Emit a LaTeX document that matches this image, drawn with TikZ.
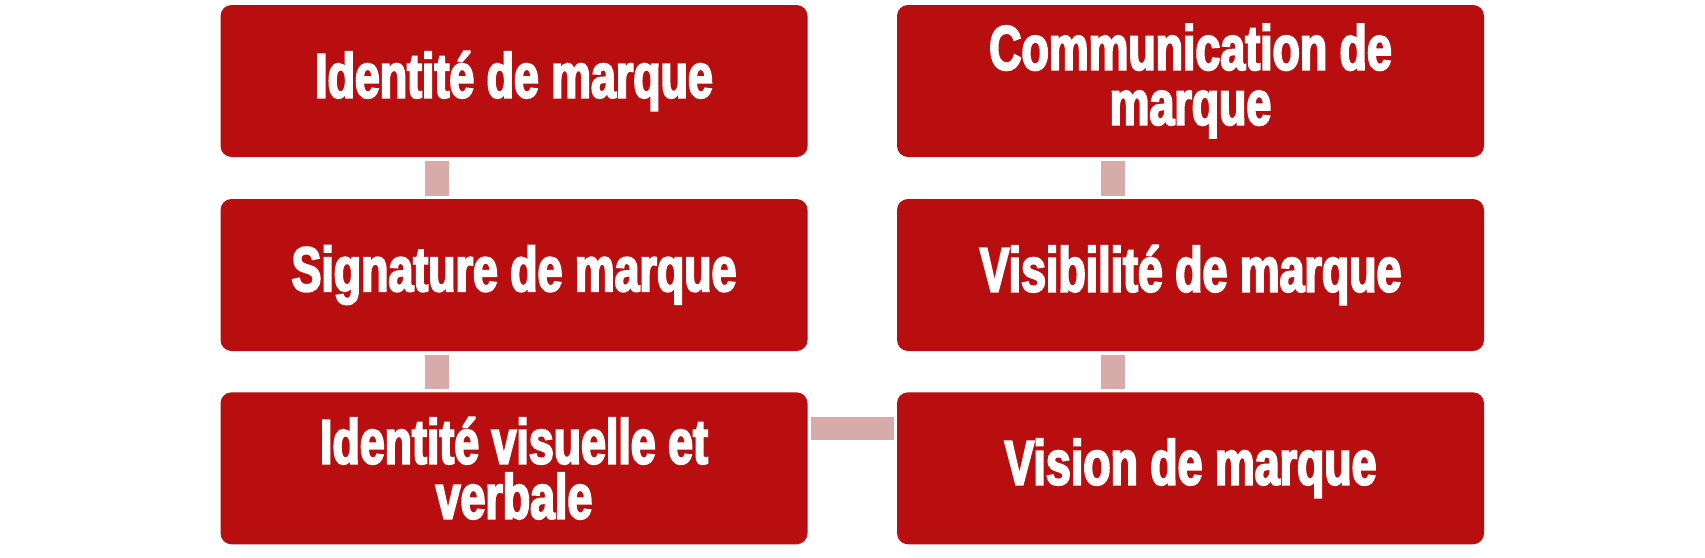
\documentclass[tikz,border=0pt]{standalone}
\usepackage{fontspec}
\newfontfamily\impfont{Liberation Sans}[FakeStretch=0.71,FakeBold=3]
\definecolor{boxred}{HTML}{B90E0F}
\definecolor{connpink}{HTML}{D8ABAB}
\begin{document}
\begin{tikzpicture}[x=1pt,y=-1pt,
  stepbox/.style={rectangle,rounded corners=11pt,fill=boxred,draw=none,
    minimum width=587pt,minimum height=152pt,inner sep=0pt,
    text=white,align=center,
    font=\impfont\bfseries\fontsize{63}{55}\selectfont},
  conn/.style={draw=connpink,line width=23.5pt,line cap=butt,shorten <=3.3pt,shorten >=3.3pt}]
\useasboundingbox (0,0) rectangle (1705,557);
\node[stepbox] (a) at (514,81) {Identité de marque};
\node[stepbox] (b) at (514,275) {Signature de marque};
\node[stepbox] (c) at (514,468.3) {Identité visuelle et\\verbale};
\node[stepbox] (d) at (1190.5,468.3) {Vision de marque};
\node[stepbox] (e) at (1190.5,275) {Visibilité de marque};
\node[stepbox] (f) at (1190.5,81) {Communication de\\marque};
\draw[conn] ([xshift=-77pt]a.south) -- ([xshift=-77pt]b.north);
\draw[conn] ([xshift=-77pt]b.south) -- ([xshift=-77pt]c.north);
\draw[conn] ([yshift=40pt]c.east) -- ([yshift=40pt]d.west);
\draw[conn] ([xshift=-77.5pt]d.north) -- ([xshift=-77.5pt]e.south);
\draw[conn] ([xshift=-77.5pt]e.north) -- ([xshift=-77.5pt]f.south);
\end{tikzpicture}
\end{document}
